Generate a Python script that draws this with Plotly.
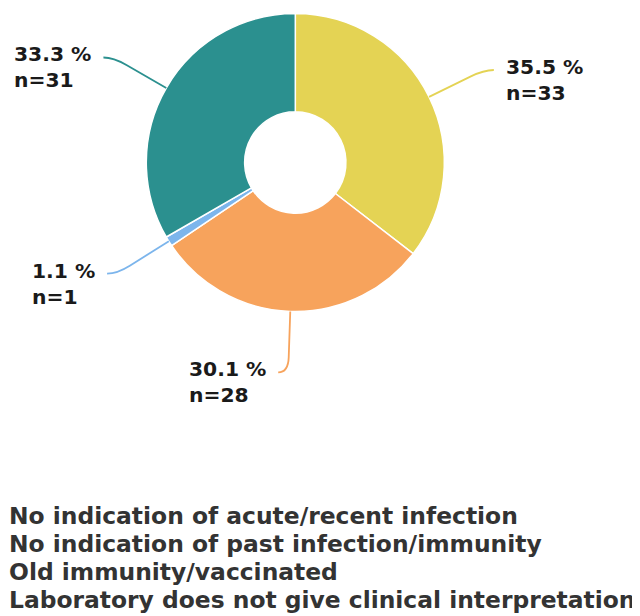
import math
import plotly.graph_objects as go

categories = [
    "No indication of acute/recent infection",
    "No indication of past infection/immunity",
    "Old immunity/vaccinated",
    "Laboratory does not give clinical interpretation",
]
# slice order clockwise from top
slice_cats = [
    "No indication of past infection/immunity",
    "No indication of acute/recent infection",
    "Laboratory does not give clinical interpretation",
    "Old immunity/vaccinated",
]
counts = [33, 28, 1, 31]
colors = ["#e4d354", "#f7a35c", "#7cb5ec", "#2b908f"]

OFF = 8  # page body margin
W, H = 640 - OFF, 616 - OFF
CX, CY, R = 295.3, 162.5, 149.0
HOLE = 0.34
LABEL_R = 210.0


def px(x):
    return (x - OFF) / W


def py(y):
    return 1 - (y - OFF) / H


fig = go.Figure(go.Pie(
    labels=slice_cats,
    values=counts,
    hole=HOLE,
    sort=False,
    direction="clockwise",
    rotation=0,
    textinfo="none",
    hoverinfo="label+value+percent",
    marker=dict(colors=colors, line=dict(color="#ffffff", width=1.5)),
    domain=dict(x=[px(CX - R), px(CX + R)], y=[py(CY + R), py(CY - R)]),
    showlegend=False,
))

total = sum(counts)
annotations = []
shapes = []
cum = 0
for v, c in zip(counts, colors):
    mid = (cum + v / 2) / total * 2 * math.pi
    cum += v
    s, co = math.sin(mid), math.cos(mid)
    sign = 1 if s >= 0 else -1
    ex, ey = CX + R * s, CY - R * co
    cy = CY - LABEL_R * co
    t = LABEL_R
    cx = CX + t * s
    ax, ay = CX + (t - 15) * s, CY - (t - 15) * co
    endx = cx + sign * 10
    path = (f"M {px(ex)},{py(ey)} L {px(ax)},{py(ay)} "
            f"Q {px(cx)},{py(cy)} {px(endx)},{py(cy)}")
    shapes.append(dict(type="path", path=path, xref="paper", yref="paper",
                       line=dict(color=c, width=1.8)))
    pct = v / total * 100
    annotations.append(dict(
        x=px(endx + sign * 10), y=py(cy + 10), xref="paper", yref="paper",
        xanchor="left" if sign > 0 else "right", yanchor="middle",
        text=f"{pct:.1f} %<br>n={v}", showarrow=False, align="left",
        font=dict(family="DejaVu Sans", size=20.3, color="#1a1a1a", weight="bold"),
    ))

legend_y = [516, 544, 572, 600]
for name, yy in zip(categories, legend_y):
    annotations.append(dict(
        x=px(7), y=py(yy), xref="paper", yref="paper",
        xanchor="left", yanchor="middle", text=name, showarrow=False,
        font=dict(family="DejaVu Sans", size=23.4, color="#333333", weight="bold"),
    ))

fig.update_layout(
    width=W, height=H,
    margin=dict(l=0, r=0, t=0, b=0),
    paper_bgcolor="#ffffff",
    plot_bgcolor="#ffffff",
    annotations=annotations,
    shapes=shapes,
)

fig.write_html("out.html")
